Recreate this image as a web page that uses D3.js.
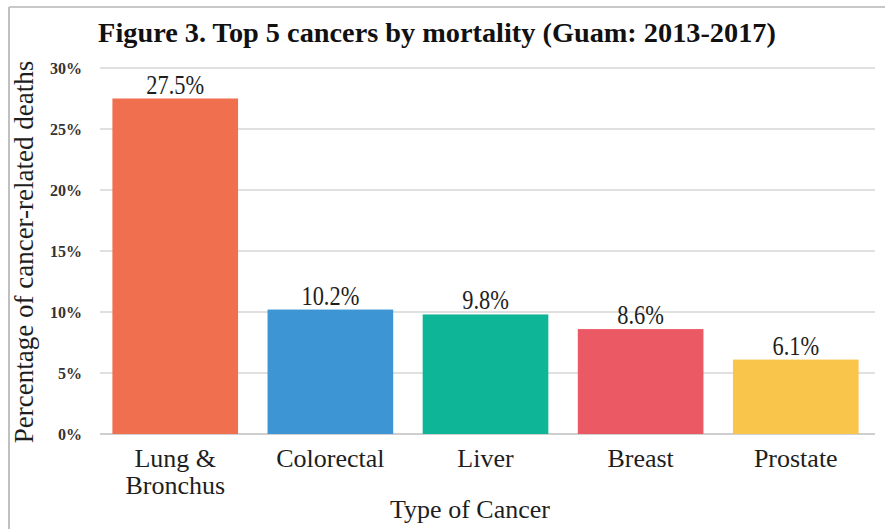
<!DOCTYPE html>
<html><head><meta charset="utf-8">
<script src="https://cdn.jsdelivr.net/npm/d3@7"></script>
<style>body{margin:0;background:#fff}svg{display:block}svg text{font-family:"Liberation Serif","Times New Roman",Times,serif}</style>
</head><body>
<svg id="c" width="885" height="529"></svg>
<script>
const categories = [["Lung &","Bronchus"],["Colorectal"],["Liver"],["Breast"],["Prostate"]];
const values = [27.5, 10.2, 9.8, 8.6, 6.1];
const colors = ["#EF6F4E","#3E95D4","#0FB597","#EB5A64","#F9C54B"];
const yTicks = [0,5,10,15,20,25,30];
const title = "Figure 3. Top 5 cancers by mortality (Guam: 2013-2017)";
const yTitle = "Percentage of cancer-related deaths";
const xTitle = "Type of Cancer";

const svg = d3.select("#c");
const m = {left:100, right:871, top:68, bottom:434};

// frame lines
svg.append("line").attr("x1",9).attr("x2",885).attr("y1",7).attr("y2",7).attr("stroke","#c8c8c8").attr("stroke-width",2);
svg.append("line").attr("x1",9).attr("x2",9).attr("y1",7).attr("y2",529).attr("stroke","#c0c0c0").attr("stroke-width",2);

const x = d3.scaleBand().domain(d3.range(values.length)).range([m.left,m.right]).paddingInner(0.19).paddingOuter(0.08);
const y = d3.scaleLinear().domain([0,30]).range([m.bottom,m.top]);

// gridlines
svg.append("g").selectAll("line").data(yTicks).join("line")
  .attr("x1",m.left).attr("x2",m.right+4)
  .attr("y1",d=>y(d)).attr("y2",d=>y(d))
  .attr("stroke",d=>d===0?"#cfcfcf":"#d6d6d6").attr("stroke-width",d=>d===0?2:1.3);

// y tick labels
const yAxis = d3.axisLeft(y).tickValues(yTicks).tickFormat(d=>d+"%").tickSize(0).tickPadding(0);
const ga = svg.append("g").attr("transform",`translate(${m.left-18},0)`).call(yAxis);
ga.select(".domain").remove();
ga.selectAll("text").attr("font-family",null).attr("font-size",16).attr("font-weight","bold").attr("fill","#333");

// bars
svg.append("g").selectAll("rect").data(values).join("rect")
  .attr("x",(d,i)=>x(i)).attr("width",x.bandwidth())
  .attr("y",d=>y(d)).attr("height",d=>y(0)-y(d))
  .attr("fill",(d,i)=>colors[i]);

// value labels (condensed)
svg.append("g").selectAll("text").data(values).join("text")
  .attr("transform",(d,i)=>`translate(${x(i)+x.bandwidth()/2},${y(d)-5}) scale(0.8,1)`)
  .attr("text-anchor","middle").attr("font-size",28).attr("fill","#1e1e1e")
  .text(d=>d.toFixed(1)+"%");

// category labels
const cl = svg.append("g").selectAll("text").data(categories).join("text")
  .attr("text-anchor","middle").attr("font-size",26).attr("fill","#1e1e1e");
cl.each(function(lines,i){
  d3.select(this).selectAll("tspan").data(lines).join("tspan")
    .attr("x",x(i)+x.bandwidth()/2).attr("y",(l,j)=>467+j*27).text(l=>l);
});

// axis titles
svg.append("text").attr("x",470).attr("y",518).attr("text-anchor","middle")
  .attr("font-size",26).attr("fill","#1e1e1e").text(xTitle);
svg.append("text").attr("transform","translate(33,252) rotate(-90)").attr("text-anchor","middle")
  .attr("font-size",27).attr("fill","#1e1e1e").text(yTitle);

// title
svg.append("text").attr("x",437).attr("y",42).attr("text-anchor","middle")
  .attr("font-size",28.3).attr("font-weight","bold").attr("fill","#111").text(title);
</script>
</body></html>
